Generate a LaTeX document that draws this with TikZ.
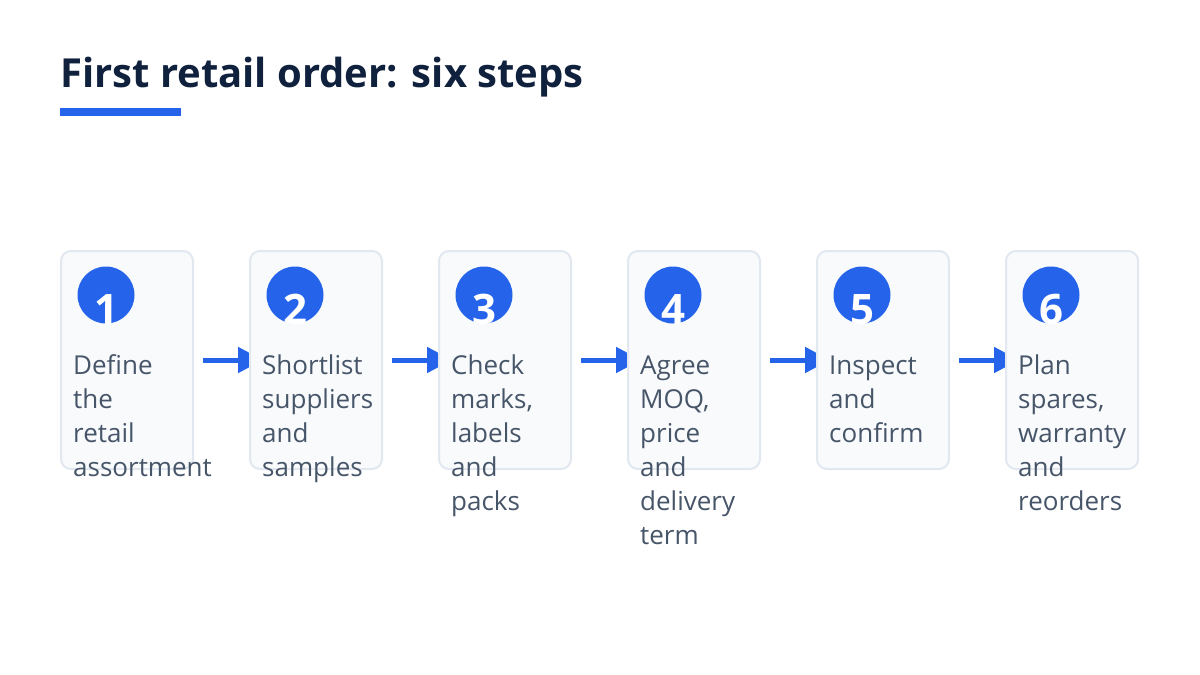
\documentclass[tikz,border=0pt]{standalone}
\usepackage{fontspec}
\setmainfont{Open Sans}
\usetikzlibrary{arrows.meta,backgrounds}
\definecolor{inkNavy}{HTML}{0F213D}
\definecolor{stepBlue}{HTML}{2563EB}
\definecolor{stepText}{HTML}{475569}
\definecolor{cardFill}{HTML}{F8FAFC}
\definecolor{cardLine}{HTML}{E2E8F0}
\tikzset{
  card/.style={draw=cardLine, fill=cardFill, line width=2pt, rounded corners=10pt,
    minimum width=132pt, minimum height=218pt, inner sep=0pt},
  numdot/.style={circle, fill=stepBlue, minimum size=57pt, inner sep=0pt},
  numtext/.style={anchor=base, inner sep=0pt, text=white,
    font=\fontsize{42}{42}\selectfont\bfseries},
  cardtext/.style={anchor=north west, inner sep=0pt, align=left, text=stepText,
    font=\fontsize{26}{34}\selectfont},
  flow/.style={draw=stepBlue, line width=5pt, -{Triangle[length=25pt,width=25pt]}},
}
\begin{document}
\begin{tikzpicture}[x=1pt, y=-1pt]
  \useasboundingbox (0,0) rectangle (1200,675);
  % heading
  \node[anchor=base west, inner sep=0pt, text=inkNavy,
    font=\fontsize{40}{48}\selectfont\bfseries] (title) at (60,87) {First retail order: six steps};
  \node[anchor=north west, fill=stepBlue, inner sep=0pt,
    minimum width=121pt, minimum height=8pt] (rule) at (60,108) {};
  % steps
  \foreach \i/\txt in {1/{Define\\the\\retail\\assortment},
                       2/{Shortlist\\suppliers\\and\\samples},
                       3/{Check\\marks,\\labels\\and\\packs},
                       4/{Agree\\MOQ,\\price\\and\\delivery\\term},
                       5/{Inspect\\and\\confirm},
                       6/{Plan\\spares,\\warranty\\and\\reorders}} {
    \node[card] (card\i) at ({127+189*(\i-1)},360) {};
    \node[numdot, path picture={\node[numtext] at ([yshift=-0.5pt]path picture bounding box.south) {\i};}]
      (dot\i) at ({106+189*(\i-1)},295) {};
    \node[cardtext] (label\i) at ({73+189*(\i-1)},350) {\strut\txt};
  }
  % connectors behind the cards
  \begin{scope}[on background layer]
    \fill[white] (0,0) rectangle (1200,675);
    \foreach \i [evaluate=\i as \j using int(\i+1)] in {1,...,5}
      \draw[flow] ([xshift=9pt]card\i.east) -- ([xshift=14pt]card\j.west);
  \end{scope}
\end{tikzpicture}
\end{document}
